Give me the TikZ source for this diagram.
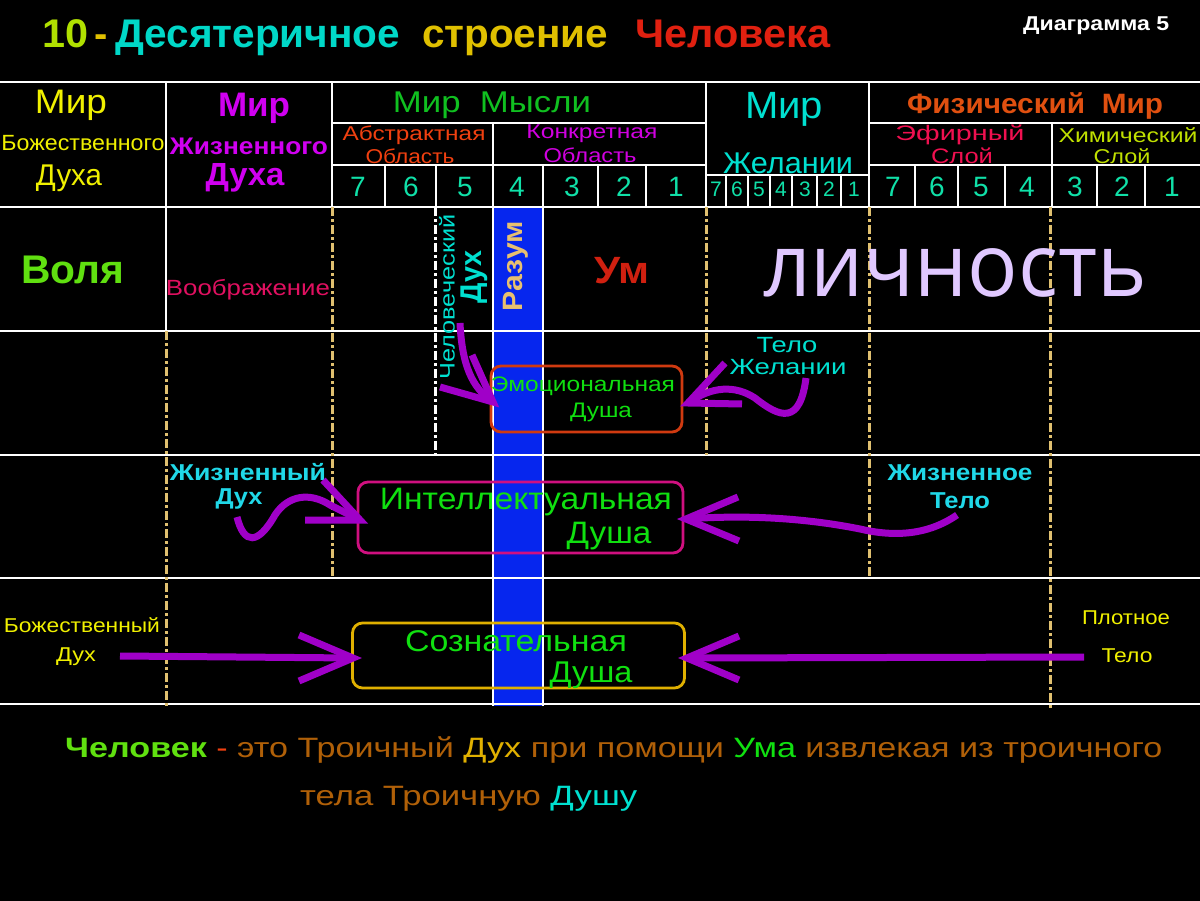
\documentclass[tikz,border=0pt]{standalone}
\usepackage{fontspec}
\setmainfont{Liberation Sans}
\newfontfamily\osans{Open Sans}
\usepackage{graphicx}
\newcommand{\fsz}[1]{\fontsize{#1pt}{#1pt}\selectfont}
\newcommand{\fw}[2]{\resizebox{#1pt}{\height}{#2}}
\definecolor{dashtan}{HTML}{E0C070}
\definecolor{purp}{HTML}{A000C8}
\definecolor{numc}{HTML}{10E0A8}
\definecolor{cyanc}{HTML}{00E0D0}
\definecolor{bandb}{HTML}{0626EE}
\definecolor{ylw}{HTML}{F0F000}
\definecolor{magc}{HTML}{D000F0}
\definecolor{grnm}{HTML}{10C020}
\definecolor{abst}{HTML}{F04010}
\definecolor{konk}{HTML}{D000E0}
\definecolor{fiz}{HTML}{E05010}
\definecolor{efir}{HTML}{F01050}
\definecolor{khim}{HTML}{C0E000}
\definecolor{brn}{HTML}{B06008}
\definecolor{lav}{HTML}{E0C8FF}
\definecolor{soulg}{HTML}{10E010}
\definecolor{emob}{HTML}{D03A10}
\definecolor{intb}{HTML}{D01080}
\definecolor{conb}{HTML}{E0B000}
\definecolor{raz}{HTML}{E8C070}
\definecolor{volg}{HTML}{60E010}
\definecolor{umr}{HTML}{D02010}
\definecolor{imag}{HTML}{E01060}
\definecolor{ttlg}{HTML}{B0E000}
\definecolor{ttlc}{HTML}{00D8C8}
\definecolor{ttly}{HTML}{E0C000}
\definecolor{ttlr}{HTML}{E02010}
\definecolor{zhc}{HTML}{20D8E8}
\begin{document}
\begin{tikzpicture}[x=1pt,y=-1pt,
  lbl/.style={inner sep=0pt, anchor=center},
  grid/.style={white, line width=2.5pt},
  thin grid/.style={white, line width=1.6pt},
  tdash/.style={dashtan, line width=3pt, dash pattern=on 9pt off 3pt on 3pt off 3pt},
  wdash/.style={white, line width=3pt, dash pattern=on 9pt off 3pt on 3pt off 3pt},
  parr/.style={purp, line width=7pt, line join=miter},
  soulbox/.style={draw, rounded corners=10pt, line width=2.8pt, inner sep=0pt}]
\fill[black] (0,0) rectangle (1200,901);
\useasboundingbox (0,0) rectangle (1200,901);

% blue band
\fill[bandb] (493,207) rectangle (543,706);

% grid
\draw[grid] (0,82) -- (1200,82);
\draw[grid] (332,123) -- (706,123);
\draw[grid] (869,123) -- (1200,123);
\draw[grid] (332,165) -- (706,165);
\draw[grid] (869,165) -- (1200,165);
\draw[grid] (706,175) -- (869,175);
\foreach \yy in {207,331,455,578,704} \draw[grid] (0,\yy) -- (1200,\yy);
\draw[grid] (166,82) -- (166,331);
\draw[grid] (332,82) -- (332,207);
\draw[grid] (706,82) -- (706,207);
\draw[grid] (869,82) -- (869,207);
\draw[grid] (493,123) -- (493,706);
\draw[grid] (543,165) -- (543,706);
\draw[grid] (1052,123) -- (1052,207);
\foreach \xx in {385,436,598,646,915,958,1005,1097,1145} \draw[grid] (\xx,165) -- (\xx,207);
\foreach \xx in {726,748,770,792,817,841} \draw[thin grid] (\xx,175) -- (\xx,207);

% dash-dot column lines
\draw[tdash] (166,331) -- (166,708);
\draw[tdash] (332,207) -- (332,578);
\draw[wdash] (435,207) -- (435,455);
\draw[tdash] (706,207) -- (706,455);
\draw[tdash] (869,207) -- (869,578);
\draw[tdash] (1050,207) -- (1050,710);

% title
\node[lbl, anchor=base west, font=\fsz{40}\bfseries, text=ttlg] (t10) at (42,48) {\fw{46}{10}};
\node[lbl, anchor=base west, font=\fsz{40}\bfseries, text=ttly] (tdash) at (94,48) {-};
\node[lbl, anchor=base west, font=\fsz{40}\bfseries, text=ttlc] (t1) at (115,48) {\fw{285}{Десятеричное}};
\node[lbl, anchor=base west, font=\fsz{40}\bfseries, text=ttly] (t2) at (422,48) {\fw{186}{строение}};
\node[lbl, anchor=base west, font=\fsz{40}\bfseries, text=ttlr] (t3) at (635,48) {\fw{195}{Человека}};
\node[lbl, anchor=base west, font=\fsz{20}\bfseries, text=white] (diag) at (1023,31) {\fw{146}{Диаграмма 5}};

% header column 1
\node[lbl, font=\fsz{34}, text=ylw] (h1a) at (71,105) {\fw{72}{Мир}};
\node[lbl, font=\fsz{22}, text=ylw] (h1b) at (83,143) {\fw{163}{Божественного}};
\node[lbl, font=\fsz{30}, text=ylw] (h1c) at (69,178) {\fw{66}{Духа}};
% header column 2
\node[lbl, font=\fsz{34}\bfseries, text=magc] (h2a) at (254,108) {\fw{72}{Мир}};
\node[lbl, font=\fsz{24}\bfseries, text=magc] (h2b) at (249,146) {\fw{158}{Жизненного}};
\node[lbl, font=\fsz{32}\bfseries, text=magc] (h2c) at (245,178) {\fw{79}{Духа}};
% Mir mysli
\node[lbl, font=\fsz{30}, text=grnm] (h3) at (492,105) {\fw{198}{Мир\ \ Мысли}};
\node[lbl, font=\fsz{20}, text=abst] (h3a) at (414,135) {\fw{143}{Абстрактная}};
\node[lbl, font=\fsz{20}, text=abst] (h3b) at (410,156) {\fw{89}{Область}};
\node[lbl, font=\fsz{20}, text=konk] (h3c) at (592,134) {\fw{131}{Конкретная}};
\node[lbl, font=\fsz{20}, text=konk] (h3d) at (590,155) {\fw{93}{Область}};
% Mir zhelanii
\node[lbl, font=\fsz{38}, text=cyanc] (h4a) at (784,109) {\fw{78}{Мир}};
\node[lbl, font=\fsz{30}, text=cyanc] (h4b) at (788,163) {\fw{130}{Желании}};
% Fizicheskiy
\node[lbl, font=\fsz{28}\bfseries, text=fiz] (h5) at (1035,106) {\fw{256}{Физический\ \ Мир}};
\node[lbl, font=\fsz{21}, text=efir] (h5a) at (960,135) {\fw{129}{Эфирный}};
\node[lbl, font=\fsz{21}, text=efir] (h5b) at (962,156) {\fw{62}{Слой}};
\node[lbl, font=\fsz{20}, text=khim] (h5c) at (1128,135) {\fw{139}{Химический}};
\node[lbl, font=\fsz{20}, text=khim] (h5d) at (1122,156) {\fw{57}{Слой}};

% numbers
\foreach \xx/\nn [count=\i] in {358/7,411/6,465/5,517/4,572/3,624/2,676/1,893/7,937/6,981/5,1027/4,1075/3,1122/2,1172/1}
  \node[lbl, font=\fsz{28}, text=numc] (num\i) at (\xx,187) {\nn};
\foreach \xx/\nn [count=\i] in {716/7,737/6,759/5,781/4,805/3,829/2,854/1}
  \node[lbl, font=\fsz{21}, text=numc] (snum\i) at (\xx,189) {\nn};

% row 1
\node[lbl, font=\fsz{40}\bfseries, text=volg] (volya) at (73,270) {\fw{103}{Воля}};
\node[lbl, font=\fsz{22}, text=imag] (voobr) at (248,290) {\fw{164}{Воображение}};
\node[lbl, rotate=90, font=\fsz{21}, text=cyanc] (chel) at (447,297) {\fw{165}{Человеческий}};
\node[lbl, rotate=90, font=\fsz{30}\bfseries, text=cyanc] (dukh) at (474,277) {\fw{53}{Дух}};
\node[lbl, rotate=90, font=\fsz{28}\bfseries, text=raz] (razum) at (516,266) {\fw{90}{Разум}};
\node[lbl, font=\fsz{38}\bfseries, text=umr] (um) at (622,271) {\fw{55}{Ум}};
\node[lbl, font=\fsz{88}\osans, text=lav] (lichn) at (955,273) {\fw{384}{личность}};

% emotional soul
\node[soulbox, draw=emob, minimum width=191pt, minimum height=66pt] (emo) at (586.5,399) {};
\node[lbl, font=\fsz{21}, text=soulg] (emo1) at (583,386) {\fw{184}{Эмоциональная}};
\node[lbl, font=\fsz{21}, text=soulg] (emo2) at (601,412) {\fw{62}{Душа}};
\node[lbl, font=\fsz{22}, text=cyanc] (tzh1) at (787,345) {\fw{61}{Тело}};
\node[lbl, font=\fsz{22}, text=cyanc] (tzh2) at (788,367) {\fw{117}{Желании}};

% intellectual soul
\node[soulbox, draw=intb, minimum width=325pt, minimum height=71pt] (intl) at (520.5,517.5) {};
\node[lbl, font=\fsz{31}, text=soulg] (int1) at (526,502) {\fw{292}{Интеллектуальная}};
\node[lbl, font=\fsz{31}, text=soulg] (int2) at (609,536) {\fw{85}{Душа}};
\node[lbl, font=\fsz{23}\bfseries, text=zhc] (zhd1) at (248,472) {\fw{156}{Жизненный}};
\node[lbl, font=\fsz{23}\bfseries, text=zhc] (zhd2) at (239,499) {\fw{47}{Дух}};
\node[lbl, font=\fsz{23}\bfseries, text=zhc] (zht1) at (960,473) {\fw{145}{Жизненное}};
\node[lbl, font=\fsz{23}\bfseries, text=zhc] (zht2) at (960,501) {\fw{60}{Тело}};

% conscious soul
\node[soulbox, draw=conb, minimum width=332pt, minimum height=65pt] (cons) at (518.5,655.5) {};
\node[lbl, font=\fsz{30}, text=soulg] (con1) at (516,641) {\fw{222}{Сознательная}};
\node[lbl, font=\fsz{30}, text=soulg] (con2) at (591,675) {\fw{83}{Душа}};
\node[lbl, font=\fsz{20}, text=ylw] (bd1) at (82,625) {\fw{156}{Божественный}};
\node[lbl, font=\fsz{20}, text=ylw] (bd2) at (76,657) {\fw{40}{Дух}};
\node[lbl, font=\fsz{20}, text=ylw] (pt1) at (1126,618) {\fw{88}{Плотное}};
\node[lbl, font=\fsz{20}, text=ylw] (pt2) at (1127,656) {\fw{51}{Тело}};

% arrows
\coordinate (a1s) at (460,323);
\coordinate (a1t) at (493,402);
\draw[parr] (a1s) .. controls (462,365) and (472,388) .. (a1t);
\draw[parr] (472,355) -- (a1t) -- (440,387);

\coordinate (a2s) at (806,378);
\coordinate (a2t) at (688,403);
\draw[parr] (a2s) .. controls (800,425) and (780,418) .. (755,398) .. controls (735,385) and (712,386) .. (a2t);
\draw[parr] (725,363) -- (a2t) -- (742,404);

\coordinate (a3s) at (237,517);
\coordinate (a3t) at (360,520);
\draw[parr] (a3s) .. controls (244,545) and (258,545) .. (275,515) .. controls (288,495) and (310,492) .. (330,505) -- (a3t);
\draw[parr] (323,480) -- (a3t) -- (305,520);

\coordinate (a4s) at (957,515);
\coordinate (a4t) at (686,519);
\draw[parr] (a4s) .. controls (925,537) and (890,536) .. (860,529) .. controls (800,517) and (740,515) .. (a4t);
\draw[parr] (738,497) -- (a4t) -- (739,541);

\coordinate (a5s) at (120,656);
\coordinate (a5t) at (353,658);
\draw[parr] (a5s) -- (a5t);
\draw[parr] (299,635) -- (a5t) -- (299,681);

\coordinate (a6s) at (1084,657);
\coordinate (a6t) at (687,658);
\draw[parr] (a6s) -- (a6t);
\draw[parr] (739,636) -- (a6t) -- (739,680);

% bottom sentence
\node[lbl, anchor=base west, font=\fsz{28}, text=brn] (s1) at (65,757) {\fw{1097}{{\color{volg}\bfseries Человек} {\color{abst}-} это Троичный {\color{conb}Дух} при помощи {\color{soulg}Ума} извлекая из троичного}};
\node[lbl, anchor=base west, font=\fsz{28}, text=brn] (s2) at (300,805) {\fw{337}{тела Троичную {\color{cyanc}Душу}}};
\end{tikzpicture}
\end{document}
